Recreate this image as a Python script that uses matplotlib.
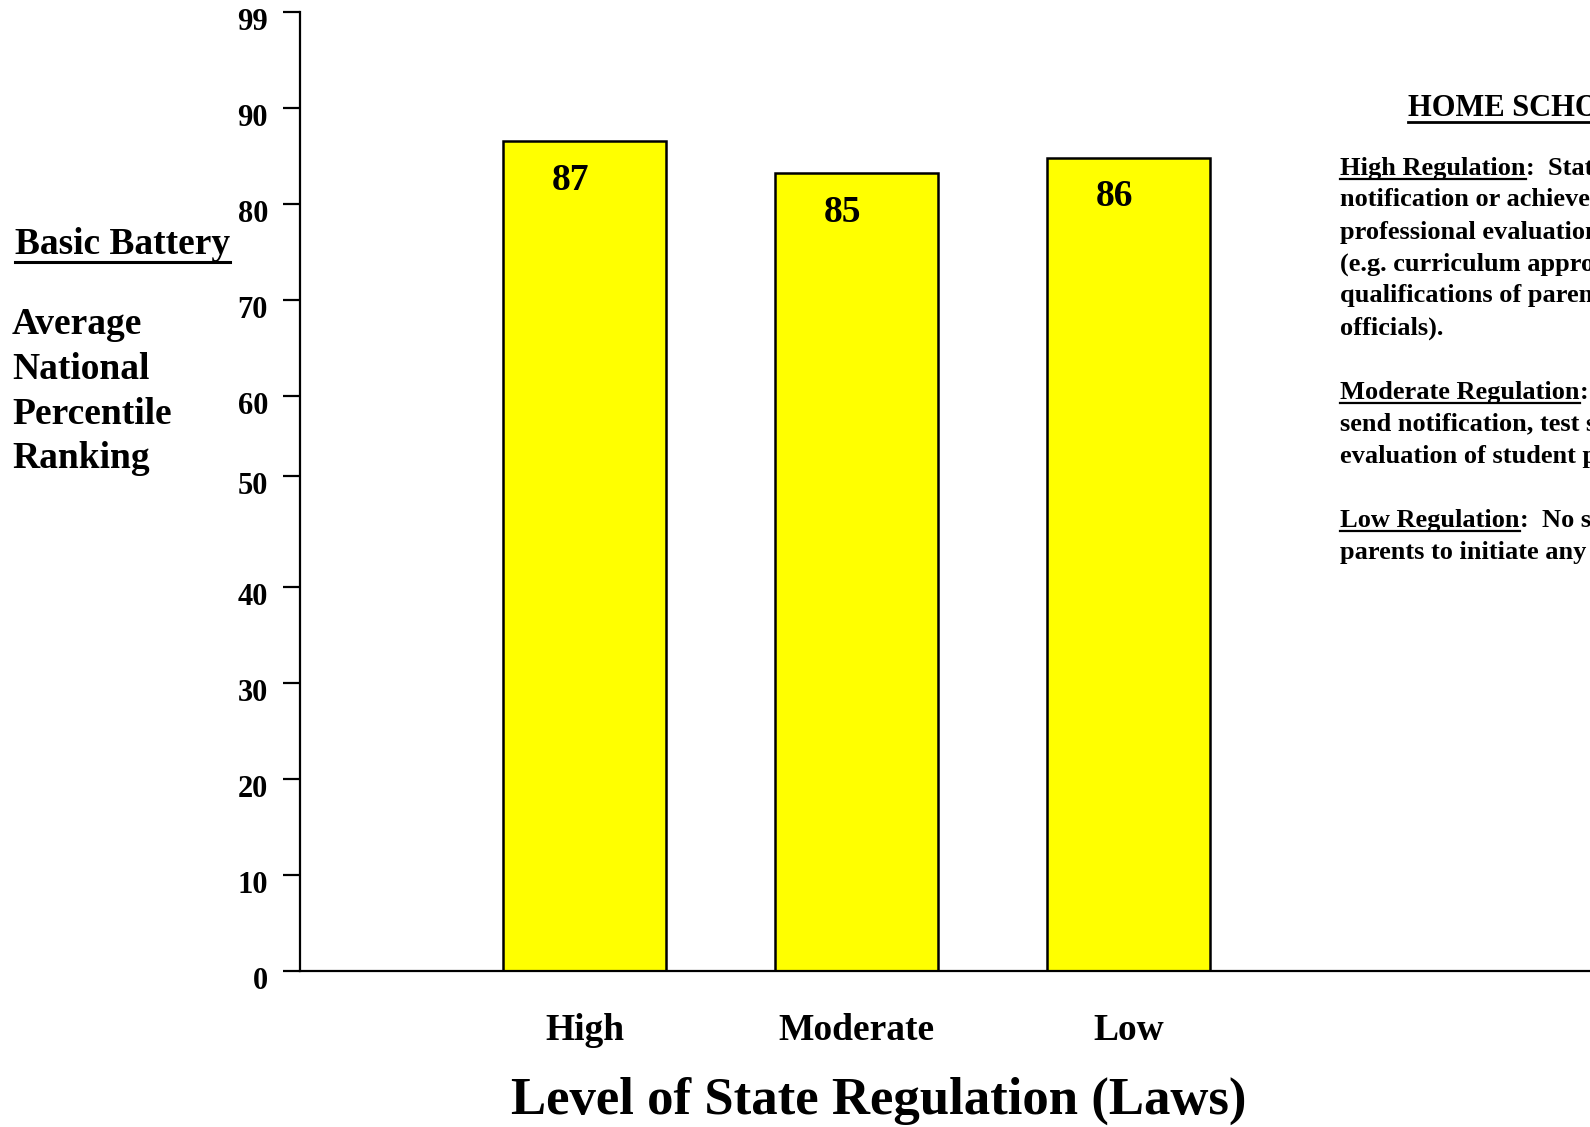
import matplotlib
matplotlib.use("Agg")
import matplotlib.pyplot as plt
from matplotlib.transforms import ScaledTranslation

# data
categories = ["High", "Moderate", "Low"]
bar_heights = [86.5, 83.2, 84.8]      # bar tops as drawn on the axis
bar_labels = ["87", "85", "86"]        # numbers printed in the bars
tick_labels = ["0", "10", "20", "30", "40", "50", "60", "70", "80", "90", "99"]

side_title = "HOME SCHOOL REGULATION"
side_lines = [
    ("High Regulation", ":  State requires parents to send"),
    ("", "notification or achievement test scores and/or"),
    ("", "professional evaluation, plus other requirements"),
    ("", "(e.g. curriculum approval by the state, teacher"),
    ("", "qualifications of parents, or home visits by state"),
    ("", "officials)."),
    None,
    ("Moderate Regulation", ":  State requires parents to"),
    ("", "send notification, test scores, and/or professional"),
    ("", "evaluation of student progress."),
    None,
    ("Low Regulation", ":  No state requirement for"),
    ("", "parents to initiate any contact with the state."),
]

plt.rcParams['font.family'] = ['Liberation Serif', 'DejaVu Serif']
plt.rcParams['font.weight'] = 'bold'

W, H = 1590, 1127
fig = plt.figure(figsize=(W / 100, H / 100), dpi=100)
# axes runs off the right edge like the original slide
ax = fig.add_axes([300 / W, 156 / H, 1800 / W, 959 / H])

x = range(len(categories))
bars = ax.bar(x, bar_heights, width=0.6, color='#ffff00', edgecolor='black', linewidth=1.8)
for b, lab in zip(bars, bar_labels):
    ax.annotate(lab, (b.get_x() + b.get_width() / 2, b.get_height()),
                xytext=(-10, -28), textcoords='offset points',
                ha='center', va='center', fontsize=27, fontweight='bold')

ax.set_xlim(-1.047, (2100 - 584.7) / 272)
ax.set_ylim(0, 100)

# the 50 tick sits a bit high in the original, top tick "99" sits at 100
ax.set_yticks([0, 10, 20, 30, 40, 51.6, 60, 70, 80, 90, 100])
ax.set_yticklabels(tick_labels)
ax.tick_params(axis='y', length=12, width=1.6, pad=11, labelsize=22)
for lbl in ax.get_yticklabels():
    lbl.set_fontweight('bold')
    lbl.set_transform(lbl.get_transform() + ScaledTranslation(0, -0.07, fig.dpi_scale_trans))

ax.set_xticks(list(x))
ax.set_xticklabels(categories, fontsize=27, fontweight='bold')
ax.tick_params(axis='x', length=0, pad=30)

ax.spines['top'].set_visible(False)
ax.spines['right'].set_visible(False)
ax.spines['left'].set_linewidth(1.6)
ax.spines['bottom'].set_linewidth(1.6)

ax.set_xlabel("Level of State Regulation (Laws)", fontsize=38, fontweight='bold')
ax.xaxis.set_label_coords((879 - 300) / 1800, -(1101 - 971) / 959)
ax.xaxis.label.set_va('center')

renderer = fig.canvas.get_renderer()


def underline(txt, lw=2.0, gap=3):
    bb = txt.get_window_extent(renderer=renderer)
    y = (bb.y0 + gap) / H
    fig.add_artist(plt.Line2D([bb.x0 / W, bb.x1 / W], [y, y], color='black', lw=lw))


# left side labels
t = fig.text(15 / W, 1 - 245 / H, "Basic Battery", fontsize=27, fontweight='bold', va='center')
underline(t, lw=2.2, gap=1)
for i, word in enumerate(["Average", "National", "Percentile", "Ranking"]):
    fig.text(12 / W, 1 - (325 + 44.5 * i) / H, word, fontsize=27, fontweight='bold', va='center')

# right side definitions (clipped by the page edge, as in the original)
t = fig.text(1408 / W, 1 - 108 / H, side_title, fontsize=22, fontweight='bold', va='center')
underline(t, lw=2.0, gap=1)

y = 168
for item in side_lines:
    if item is None:
        y += 32
        continue
    head, rest = item
    if head:
        th = fig.text(1340 / W, 1 - y / H, head, fontsize=19, fontweight='bold', va='center')
        bb = th.get_window_extent(renderer=renderer)
        fig.text(bb.x1 / W, 1 - y / H, rest, fontsize=19, fontweight='bold', va='center')
        underline(th, lw=1.6, gap=1)
    else:
        fig.text(1340 / W, 1 - y / H, rest, fontsize=19, fontweight='bold', va='center')
    y += 32

plt.savefig("out.png", dpi=100)
